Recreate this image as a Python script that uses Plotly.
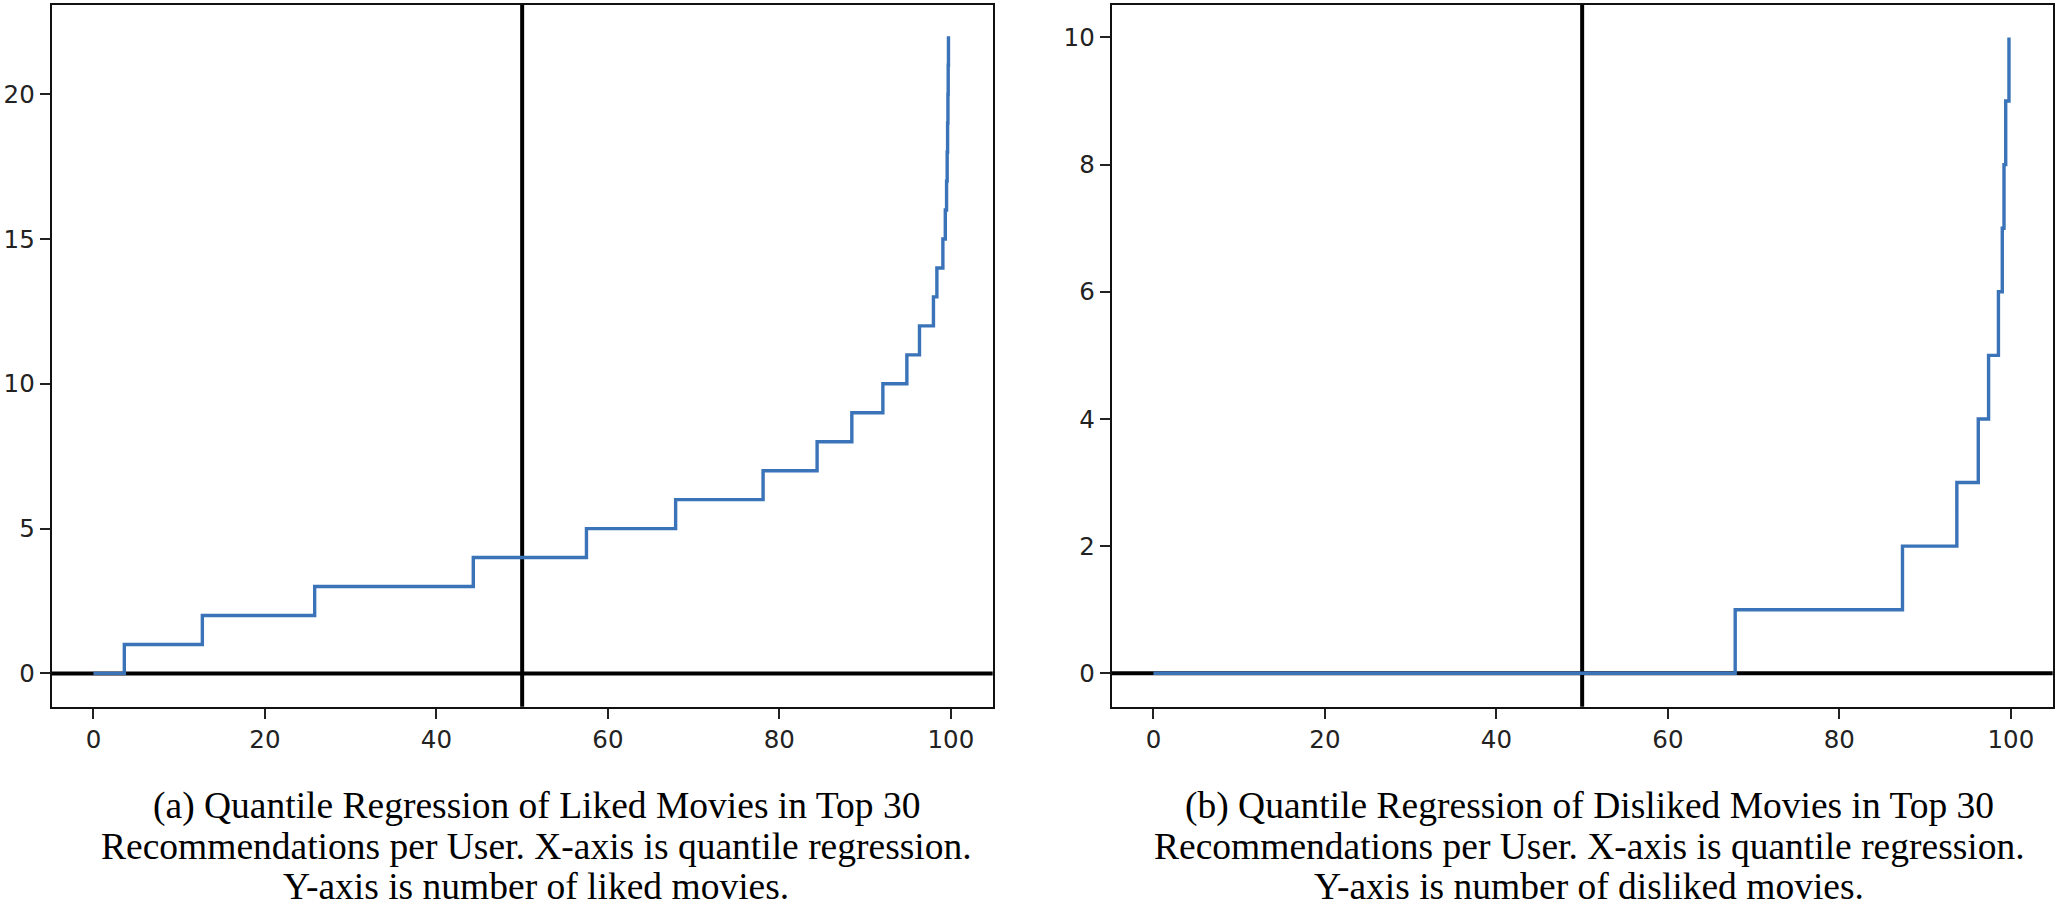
import plotly.graph_objects as go

# ---- data ----
liked_quantile = [0, 3.6, 12.7, 25.8, 44.3, 57.5, 67.9, 78.1, 84.4, 88.45, 92.07, 94.87,
                  96.34, 97.97, 98.37, 99.07, 99.35, 99.5, 99.57, 99.62, 99.66, 99.69, 99.72]
liked_count = [0, 1, 2, 3, 4, 5, 6, 7, 8, 9, 10, 11, 12, 13, 14, 15, 16, 17, 18, 19, 20, 21, 22]

disliked_quantile = [0, 67.85, 87.36, 93.7, 96.2, 97.4, 98.55, 99.0, 99.2, 99.4, 99.78]
disliked_count = [0, 1, 2, 3, 4, 5, 6, 7, 8, 9, 10]

x_ticks = [0, 20, 40, 60, 80, 100]
liked_y_ticks = [0, 5, 10, 15, 20]
disliked_y_ticks = [0, 2, 4, 6, 8, 10]

caption_a = ["(a) Quantile Regression of Liked Movies in Top 30",
             "Recommendations per User. X-axis is quantile regression.",
             "Y-axis is number of liked movies."]
caption_b = ["(b) Quantile Regression of Disliked Movies in Top 30",
             "Recommendations per User. X-axis is quantile regression.",
             "Y-axis is number of disliked movies."]

median_quantile = 50

# ---- layout constants ----
W, H = 2060, 906
BLUE = "#3a73b8"
TICKFONT = dict(family="DejaVu Sans", size=24.5, color="#222222")

def px_x(p):
    return p / W

def px_y(p):
    return 1 - p / H

fig = go.Figure()
fig.add_trace(go.Scatter(x=liked_quantile, y=liked_count, mode="lines",
                         line=dict(color=BLUE, width=3.4, shape="hv"),
                         xaxis="x", yaxis="y", showlegend=False))
fig.add_trace(go.Scatter(x=disliked_quantile, y=disliked_count, mode="lines",
                         line=dict(color=BLUE, width=3.4, shape="hv"),
                         xaxis="x2", yaxis="y2", showlegend=False))

axis_common = dict(showgrid=False, zeroline=False, showline=True, mirror=True,
                   linecolor="#111111", linewidth=2, ticks="outside", ticklen=10,
                   tickwidth=2, tickcolor="#222222", tickfont=TICKFONT)

y_dom = [px_y(706.7), px_y(5)]
fig.update_layout(
    width=W, height=H,
    margin=dict(l=0, r=0, t=0, b=0),
    paper_bgcolor="white", plot_bgcolor="white",
    xaxis=dict(domain=[px_x(51.7), px_x(992.7)], range=[-4.87, 104.88],
               tickvals=x_ticks, anchor="y", **axis_common),
    yaxis=dict(domain=y_dom, range=[-1.15, 23.08], tickvals=liked_y_ticks,
               anchor="x", **axis_common),
    xaxis2=dict(domain=[px_x(1111.7), px_x(2052.7)], range=[-4.87, 104.88],
                tickvals=x_ticks, anchor="y2", **axis_common),
    yaxis2=dict(domain=y_dom, range=[-0.525, 10.51], tickvals=disliked_y_ticks,
                anchor="x2", **axis_common),
)

shapes = []
for xr, yr in (("x", "y"), ("x2", "y2")):
    shapes.append(dict(type="line", xref=f"{xr} domain", x0=0, x1=1, yref=yr, y0=0, y1=0,
                       line=dict(color="black", width=4), layer="below"))
    shapes.append(dict(type="line", xref=xr, x0=median_quantile, x1=median_quantile,
                       yref=f"{yr} domain", y0=0, y1=1,
                       line=dict(color="black", width=4), layer="below"))
fig.update_layout(shapes=shapes)

baselines = [818, 858, 898]
for cx, lines in ((536, caption_a), (1589, caption_b)):
    for base, txt in zip(baselines, lines):
        fig.add_annotation(x=px_x(cx), y=px_y(base - 12), xref="paper", yref="paper",
                           text=txt, showarrow=False, xanchor="center", yanchor="middle",
                           font=dict(family="Liberation Serif", size=37.5, color="black"))

fig.write_html("out.html")
